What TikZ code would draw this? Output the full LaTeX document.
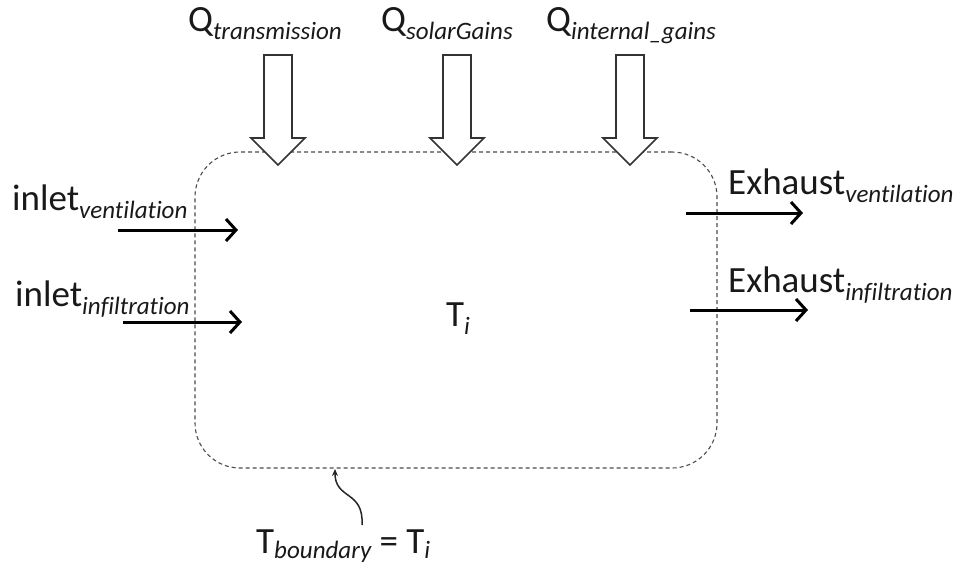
\documentclass[tikz,border=0pt]{standalone}
\usepackage{fontspec}
\setmainfont{Carlito}[RawFeature={-liga;-dlig}]
\usetikzlibrary{arrows.meta}
\newcommand{\mainsz}{\fontsize{37}{40}\selectfont}
\newcommand{\subt}[1]{\raisebox{-8pt}{\fontsize{25}{28}\selectfont\itshape #1}}
\newcommand{\subs}[1]{\raisebox{-5pt}{\fontsize{25}{28}\selectfont\itshape #1}}
\tikzset{
  lbl/.style={inner sep=0pt, anchor=base west, font=\mainsz, text=black!90},
  flow/.style={line width=3pt, -{Straight Barb[length=10pt,width=22pt,line width=3pt 0]}},
  blockarrow/.style={draw=black!80, line width=1.6pt, fill=white, line join=miter},
  boundary/.style={draw=black!70, line width=1.1pt, dash pattern=on 4pt off 3pt},
}
\begin{document}
\begin{tikzpicture}[x=1pt,y=-1pt]
\useasboundingbox (0,0) rectangle (957,568);
% boundary
\node[boundary, rounded corners=45pt, minimum width=522pt, minimum height=316pt, inner sep=0pt] (box) at (456,310) {};
% block arrows
\foreach \cx/\nm in {278/bt,457/bs,630/bi}{
  \draw[blockarrow] (\cx-14,55) -- (\cx+14,55) -- (\cx+14,138) -- (\cx+27,138) -- (\cx,165) -- (\cx-27,138) -- (\cx-14,138) -- cycle;
}
% Q labels
\node[lbl] (qt) at (188,31) {Q\subt{transmission}};
\node[lbl] (qs) at (381,31) {Q\subt{solarGains}};
\node[lbl] (qi) at (546,31) {Q\subt{internal\_gains}};
% inlet
\node[lbl] (iv) at (12,210) {inlet\subt{ventilation}};
\node[lbl] (ii) at (15,306) {inlet\subt{infiltration}};
\coordinate (iva) at (118,230);
\coordinate (ivb) at (238,230);
\coordinate (iia) at (123,322);
\coordinate (iib) at (242,322);
\draw[flow] (iva) -- (ivb);
\draw[flow] (iia) -- (iib);
% exhaust
\node[lbl] (ev) at (728,194) {Exhaust\subt{ventilation}};
\node[lbl] (ei) at (728,292) {Exhaust\subt{infiltration}};
\coordinate (eva) at (686,213);
\coordinate (evb) at (803,213);
\coordinate (eia) at (690,310);
\coordinate (eib) at (808,310);
\draw[flow] (eva) -- (evb);
\draw[flow] (eia) -- (eib);
% Ti
\node[lbl] (ti) at (446,326) {T\subt{i}};
% bottom label
\node[lbl] (tb) at (256,553) {T\subs{boundary} = T\subs{i}};
\coordinate (tbs) at (362,525);
\coordinate (tbe) at (335,469);
\draw[line width=1.5pt, black!85, -{Stealth[length=7pt,width=6pt]}] (tbs) .. controls (364,490) and (335,500) .. (tbe);
\end{tikzpicture}
\end{document}
